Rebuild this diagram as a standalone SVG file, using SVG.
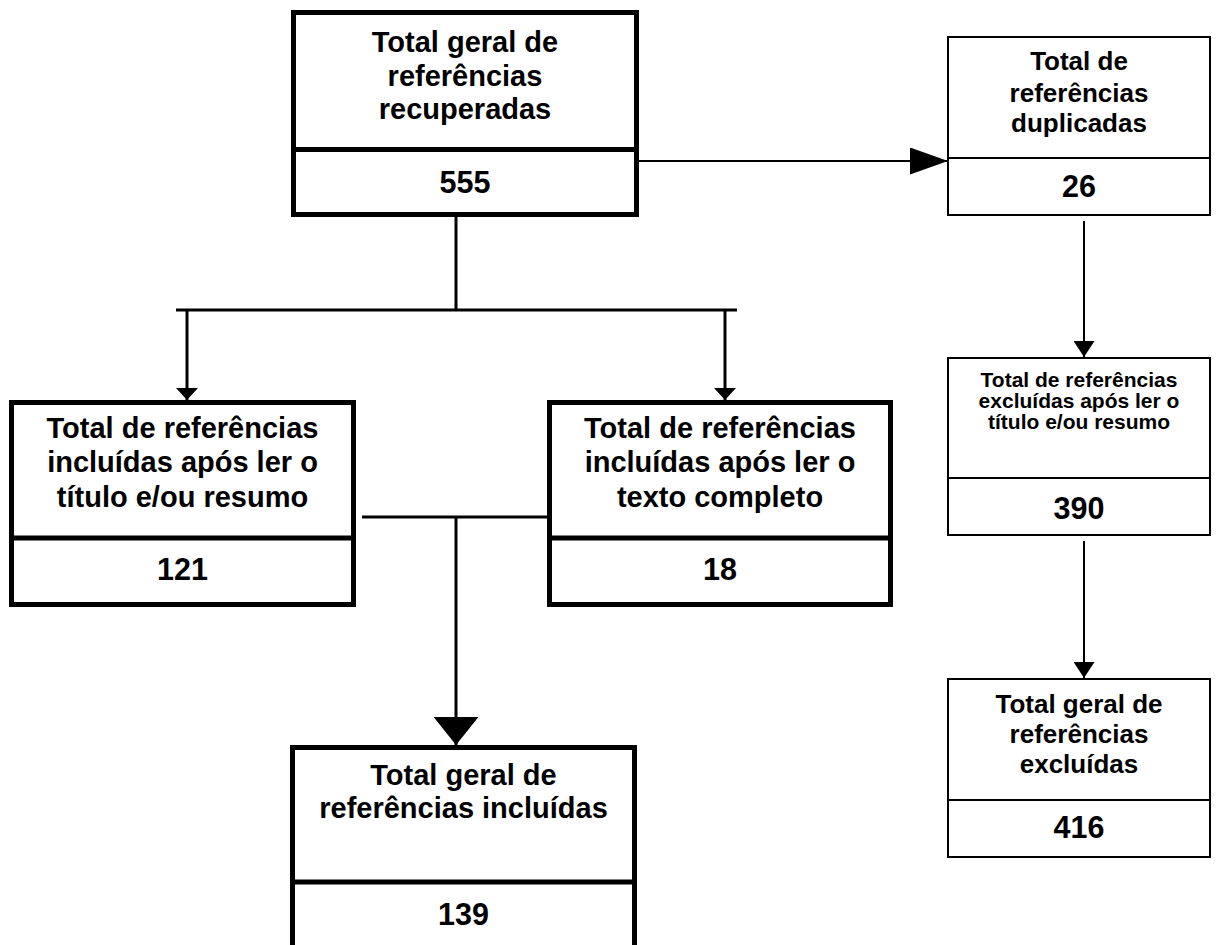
<svg xmlns="http://www.w3.org/2000/svg" width="1216" height="945" viewBox="0 0 1216 945">
<style>
.thick{fill:#fff;stroke:#000;stroke-width:5}
.thin{fill:#fff;stroke:#000;stroke-width:2}
.dv5{stroke:#000;stroke-width:5}
.dv2{stroke:#000;stroke-width:2}
.t{font-family:"Liberation Sans",Arial,sans-serif;font-weight:bold;fill:#000;text-anchor:middle}
.f29{font-size:29px}
.f26{font-size:26px}
.f21{font-size:21px}
.n{font-size:30.5px}
.c3{stroke:#000;stroke-width:3;fill:none}
.c2{stroke:#000;stroke-width:2;fill:none}
</style>
<defs>
<marker id="aBig" viewBox="0 0 38 27" refX="38" refY="13.5" markerWidth="38" markerHeight="27" markerUnits="userSpaceOnUse" orient="auto"><path d="M0,0 L38,13.5 L0,27 Z" fill="#000"/></marker>
<marker id="aG" viewBox="0 0 28 45" refX="28" refY="22.5" markerWidth="28" markerHeight="45" markerUnits="userSpaceOnUse" orient="auto"><path d="M0,0 L28,22.5 L0,45 Z" fill="#000"/></marker>
<marker id="aS" viewBox="0 0 12 22" refX="12" refY="11" markerWidth="12" markerHeight="22" markerUnits="userSpaceOnUse" orient="auto"><path d="M0,0 L12,11 L0,22 Z" fill="#000"/></marker>
<marker id="aR" viewBox="0 0 16 21" refX="16" refY="10.5" markerWidth="16" markerHeight="21" markerUnits="userSpaceOnUse" orient="auto"><path d="M0,0 L16,10.5 L0,21 Z" fill="#000"/></marker>
</defs>
<g id="connectors">
<line class="c2" x1="639" y1="161" x2="948" y2="161" marker-end="url(#aBig)"/>
<line class="c3" x1="456" y1="217" x2="456" y2="310"/>
<line class="c3" x1="176" y1="310" x2="737" y2="310"/>
<line class="c3" x1="187" y1="310" x2="187" y2="400" marker-end="url(#aS)"/>
<line class="c3" x1="725" y1="310" x2="725" y2="400" marker-end="url(#aS)"/>
<line class="c3" x1="362" y1="517" x2="547" y2="517"/>
<line class="c3" x1="456" y1="517" x2="456" y2="745" marker-end="url(#aG)"/>
<line class="c2" x1="1084" y1="221" x2="1084" y2="357" marker-end="url(#aR)"/>
<line class="c2" x1="1084" y1="541" x2="1084" y2="678" marker-end="url(#aR)"/>
</g>
<g id="node-recuperadas">
<rect class="thick" x="293.5" y="12.5" width="343" height="202"/>
<line class="dv5" x1="293.5" y1="149.5" x2="636.5" y2="149.5"/>
<text class="t f29" x="465" y="52">Total geral de</text>
<text class="t f29" x="465" y="86">referências</text>
<text class="t f29" x="465" y="119">recuperadas</text>
<text class="t n" x="465" y="193">555</text>
</g>
<g id="node-duplicadas">
<rect class="thin" x="948" y="37" width="262" height="178"/>
<line class="dv2" x1="948" y1="158" x2="1210" y2="158"/>
<text class="t f26" x="1079" y="70">Total de</text>
<text class="t f26" x="1079" y="102">referências</text>
<text class="t f26" x="1079" y="132">duplicadas</text>
<text class="t n" x="1079" y="197">26</text>
</g>
<g id="node-excluidas-titulo">
<rect class="thin" x="948" y="358" width="262" height="177"/>
<line class="dv2" x1="948" y1="478" x2="1210" y2="478"/>
<text class="t f21" x="1079" y="387">Total de referências</text>
<text class="t f21" x="1079" y="408">excluídas após ler o</text>
<text class="t f21" x="1079" y="429">título e/ou resumo</text>
<text class="t n" x="1079" y="519">390</text>
</g>
<g id="node-excluidas-total">
<rect class="thin" x="948" y="679" width="262" height="178"/>
<line class="dv2" x1="948" y1="800" x2="1210" y2="800"/>
<text class="t f26" x="1079" y="713">Total geral de</text>
<text class="t f26" x="1079" y="743">referências</text>
<text class="t f26" x="1079" y="773">excluídas</text>
<text class="t n" x="1079" y="838">416</text>
</g>
<g id="node-incluidas-titulo">
<rect class="thick" x="11.5" y="402.5" width="342" height="202"/>
<line class="dv5" x1="11.5" y1="538" x2="353.5" y2="538"/>
<text class="t f29" x="182.5" y="438">Total de referências</text>
<text class="t f29" x="182.5" y="472">incluídas após ler o</text>
<text class="t f29" x="182.5" y="507">título e/ou resumo</text>
<text class="t n" x="182.5" y="580">121</text>
</g>
<g id="node-incluidas-texto">
<rect class="thick" x="549.5" y="402.5" width="341" height="202"/>
<line class="dv5" x1="549.5" y1="538" x2="890.5" y2="538"/>
<text class="t f29" x="720" y="438">Total de referências</text>
<text class="t f29" x="720" y="472">incluídas após ler o</text>
<text class="t f29" x="720" y="507">texto completo</text>
<text class="t n" x="720" y="580">18</text>
</g>
<g id="node-incluidas-total">
<rect class="thick" x="292.5" y="747.5" width="342" height="220"/>
<line class="dv5" x1="292.5" y1="882" x2="634.5" y2="882"/>
<text class="t f29" x="463.5" y="785">Total geral de</text>
<text class="t f29" x="463.5" y="818">referências incluídas</text>
<text class="t n" x="463.5" y="925">139</text>
</g>
</svg>
